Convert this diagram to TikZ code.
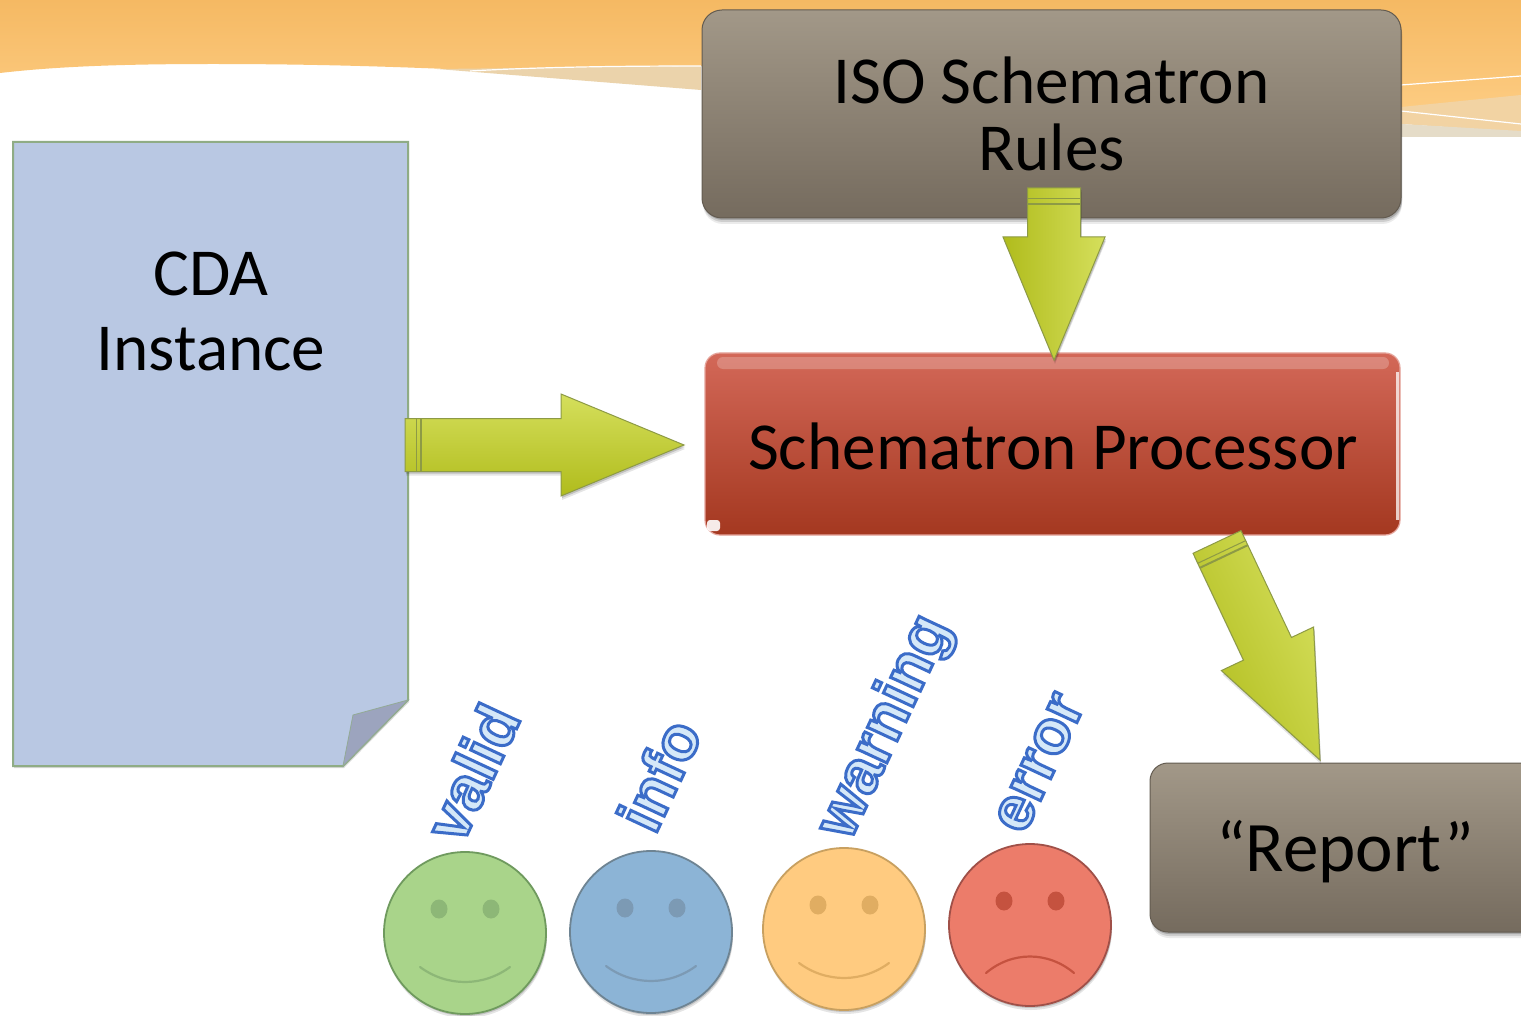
\documentclass[tikz,border=0pt]{standalone}
\usepackage{fontspec}
\setmainfont{Carlito}
\newfontfamily\artfont{Liberation Sans}[BoldFont={Liberation Sans Bold}]
\usetikzlibrary{calc,shadows,shapes.geometric}
\definecolor{oTop}{HTML}{F5B963}
\definecolor{oBot}{HTML}{FDCC82}
\definecolor{beigeA}{HTML}{EBD3AB}
\definecolor{beigeB}{HTML}{F2D3A3}
\definecolor{beigeC}{HTML}{E5DCC8}
\definecolor{greyTop}{HTML}{A29888}
\definecolor{greyBot}{HTML}{756B5E}
\definecolor{redTop}{HTML}{D36858}
\definecolor{redBot}{HTML}{A43820}
\definecolor{pageFill}{HTML}{B9C8E3}
\definecolor{pageEdge}{HTML}{8FAC85}
\definecolor{foldFill}{HTML}{9CA4BE}
\definecolor{arLight}{HTML}{D5DF5C}
\definecolor{arDark}{HTML}{B0BC1C}
\definecolor{arEdge}{HTML}{8D9A45}
\definecolor{faceG}{HTML}{A9D48A}\definecolor{edgeG}{HTML}{6F9A5E}\definecolor{eyeG}{HTML}{8DB777}
\definecolor{faceB}{HTML}{8CB4D6}\definecolor{edgeB}{HTML}{6E8493}\definecolor{eyeB}{HTML}{7C9AB4}
\definecolor{faceO}{HTML}{FFCB80}\definecolor{edgeO}{HTML}{C8A060}\definecolor{eyeO}{HTML}{E0AD62}
\definecolor{faceR}{HTML}{EC7C6A}\definecolor{edgeR}{HTML}{A05048}\definecolor{eyeR}{HTML}{C5523F}
\definecolor{artFill}{HTML}{D5E8F8}
\tikzset{
  softshadow/.style={
    drop shadow={shadow xshift=1pt,shadow yshift=-6pt,opacity=.08,fill=black},
    drop shadow={shadow xshift=1pt,shadow yshift=-4pt,opacity=.12,fill=black},
    drop shadow={shadow xshift=1pt,shadow yshift=-2pt,opacity=.18,fill=black}},
  greybox/.style={draw=greyBot!85!black,line width=1pt,rounded corners=20pt,top color=greyTop,bottom color=greyBot,
    softshadow,align=center,inner sep=0pt,text=black,font=\fontsize{67.2}{67}\selectfont},
  redbox/.style={draw=redTop!60!white,line width=1.2pt,rounded corners=15pt,top color=redTop,bottom color=redBot,
    align=center,inner sep=0pt,text=black},
  pagetext/.style={align=center,inner sep=0pt,text=black,font=\fontsize{67.2}{75}\selectfont},
  arrowbody/.style={draw=arEdge,line width=1pt,left color=arDark,right color=arLight,
    drop shadow={shadow xshift=1pt,shadow yshift=-4pt,opacity=.1,fill=black},
    drop shadow={shadow xshift=1pt,shadow yshift=-2pt,opacity=.16,fill=black}},
  arrowband/.style={draw=arEdge,line width=1pt},
  face/.style={circle,inner sep=0pt,minimum size=162pt,line width=1.8pt,
    drop shadow={shadow xshift=1pt,shadow yshift=-4pt,opacity=.1,fill=black},
    drop shadow={shadow xshift=1pt,shadow yshift=-2pt,opacity=.15,fill=black}},
  eye/.style={ellipse,inner sep=0pt,minimum width=17pt,minimum height=19pt},
  mouth/.style={line width=2.2pt,line cap=round},
  wordart/.style={inner sep=0pt,rotate=65,anchor=base west,font=\artfont\bfseries\fontsize{62}{62}\selectfont}
}
\newcommand\arttext[1]{{\color{artFill}\special{pdf:code 2 Tr 3 w 0.231 0.424 0.784 RG}#1\special{pdf:code 0 Tr}}}
% #1 start, #2 tip, #3 shading angle
\newcommand\blockarrow[3]{%
  \coordinate (hb) at ($(#2)!123pt!(#1)$);
  \path[arrowbody,shading angle=#3]
    ($(#1)!26.5pt!90:(#2)$) -- ($(hb)!26.5pt!90:(#2)$) -- ($(hb)!51pt!90:(#2)$) -- (#2)
    -- ($(hb)!51pt!-90:(#2)$) -- ($(hb)!26.5pt!-90:(#2)$) -- ($(#1)!26.5pt!-90:(#2)$) -- cycle;
  \coordinate (bandA) at ($(#1)!11pt!(#2)$);
  \coordinate (bandB) at ($(#1)!16pt!(#2)$);
  \draw[arrowband] ($(bandA)!26.5pt!90:(#2)$) -- ($(bandA)!26.5pt!-90:(#2)$);
  \draw[arrowband,line width=2pt] ($(bandB)!26.5pt!90:(#2)$) -- ($(bandB)!26.5pt!-90:(#2)$);
}
% #1 name, #2 x, #3 y, #4 fill, #5 edge, #6 eye
\newcommand\smiley[6]{%
  \node[face,fill=#4,draw=#5] (#1) at (#2,#3) {};
  \node[eye,fill=#6] (#1L) at ($(#1)+(-26,-24)$) {};
  \node[eye,fill=#6] (#1R) at ($(#1)+(26,-24)$) {};
}
\begin{document}
\begin{tikzpicture}[x=1pt,y=-1pt]
\useasboundingbox (0,0) rectangle (1521,1016);
\begin{scope}
\clip (0,0) rectangle (1521,1016);
\fill[white] (0,0) rectangle (1521,1016);
% banner
\shade[top color=oTop,bottom color=oBot]
  (0,0) -- (1521,0) -- (1521,100) -- (1401,112) -- (701,66) -- (470,70)
  .. controls (380,66) and (300,64) .. (213,64)
  .. controls (130,64) and (60,66) .. (0,73) -- cycle;
\fill[beigeA] (437,69) -- (701,66) -- (701,90) -- cycle;
\draw[white,line width=1.2pt] (470,71) .. controls (540,67) and (620,66) .. (701,66);
\fill[beigeB] (1401,107) -- (1521,95) -- (1521,132) -- (1401,124) -- cycle;
\fill[beigeC] (1401,124) -- (1521,131) -- (1521,137) -- (1401,137) -- cycle;
\draw[white,line width=1.2pt] (1401,85) -- (1521,76);
\draw[white,line width=1.2pt] (1401,111) -- (1521,124);

% boxes
\node[greybox,minimum width=699pt,minimum height=208pt] (rules) at (1051.5,114) {ISO Schematron\\Rules};
\node[redbox,minimum width=695pt,minimum height=182pt] (proc) at (1052.5,444) {};
\fill[white,opacity=.22,rounded corners=6pt] (717,357) rectangle (1389,369);
\fill[white,opacity=.75] (1396,372) rectangle (1398.5,520);
\fill[white,opacity=.9,rounded corners=3pt] (707,520) rectangle (720,531);
\node[inner sep=0pt,text=black,font=\fontsize{67.2}{70}\selectfont] (proclabel) at (1053,446) {Schematron Processor};
\node[greybox,rounded corners=18pt,minimum width=390pt,minimum height=169pt] (report) at (1345,847.5) {};
\node[inner sep=0pt,text=black,font=\fontsize{71}{71}\selectfont] (reportlabel) at ($(report.center)+(0,4)$) {“Report”};

% page
\path[fill=pageFill,draw=pageEdge,line width=2pt,drop shadow={shadow xshift=1pt,shadow yshift=-2pt,opacity=.15,fill=black}]
  (13,142) -- (408,142) -- (408,700) -- (343,766) -- (13,766) -- cycle;
\path[fill=foldFill,draw=pageEdge!70!foldFill,line width=.8pt] (408,700) -- (353,715) -- (343,766) -- cycle;
\node[pagetext] (cda) at (211,311) {CDA\\Instance};

% arrows
\coordinate (a1s) at (405,445);
\coordinate (a1t) at (684,445);
\coordinate (a2s) at (1054,188);
\coordinate (a2t) at (1054,360);
\coordinate (a3s) at (1217,542);
\coordinate (a3t) at (1320,760);
\blockarrow{a1s}{a1t}{180}
\blockarrow{a2s}{a2t}{90}
\blockarrow{a3s}{a3t}{115}

% faces
\smiley{fv}{465}{933}{faceG}{edgeG}{eyeG}
\draw[mouth,draw=eyeG] ($(fv)+(-45,34)$) .. controls ($(fv)+(-18,54)$) and ($(fv)+(18,54)$) .. ($(fv)+(45,34)$);
\smiley{fi}{651}{932}{faceB}{edgeB}{eyeB}
\draw[mouth,draw=eyeB] ($(fi)+(-45,34)$) .. controls ($(fi)+(-18,54)$) and ($(fi)+(18,54)$) .. ($(fi)+(45,34)$);
\smiley{fw}{844}{929}{faceO}{edgeO}{eyeO}
\draw[mouth,draw=eyeO] ($(fw)+(-45,34)$) .. controls ($(fw)+(-18,54)$) and ($(fw)+(18,54)$) .. ($(fw)+(45,34)$);
\smiley{fe}{1030}{925}{faceR}{edgeR}{eyeR}
\draw[mouth,draw=eyeR] ($(fe)+(-44,48)$) .. controls ($(fe)+(-18,26)$) and ($(fe)+(18,26)$) .. ($(fe)+(44,48)$);

% word art
\node[wordart] (tv) at (462,846) {\arttext{valid}};
\node[wordart] (ti) at (655,836) {\arttext{info}};
\node[wordart] (tw) at (850,842) {\arttext{warning}};
\node[wordart] (te) at (1024,836) {\arttext{error}};
\end{scope}
\end{tikzpicture}
\end{document}
